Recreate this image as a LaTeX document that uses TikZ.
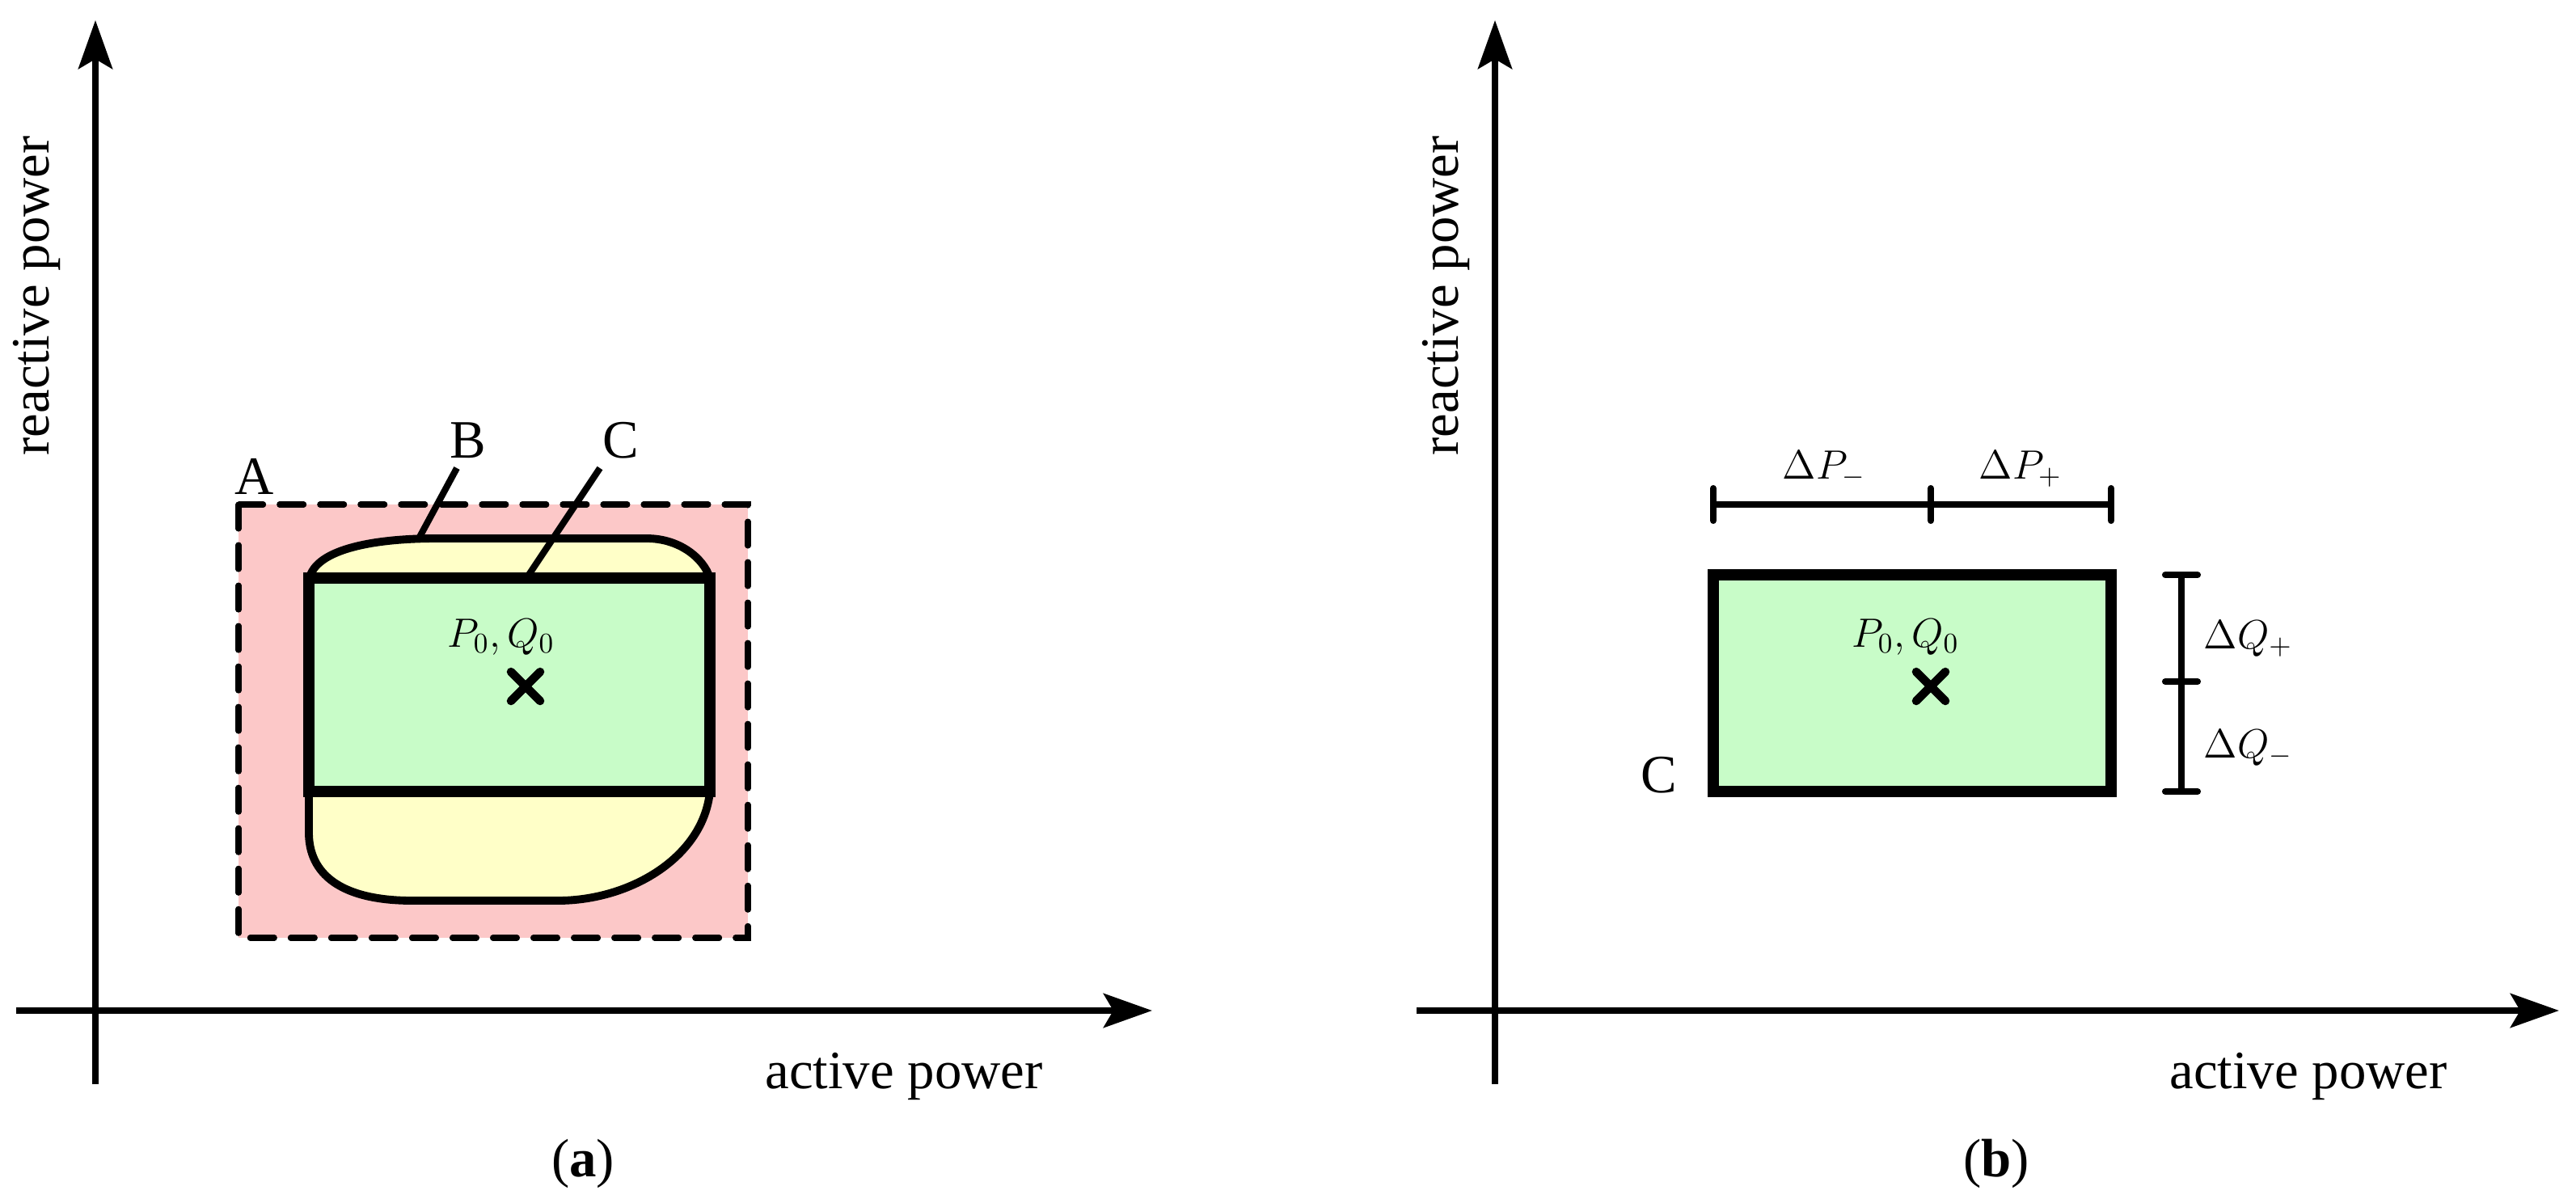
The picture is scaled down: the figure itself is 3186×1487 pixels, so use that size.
\documentclass[tikz,border=0pt]{standalone}
\usepackage{fontspec}
\setmainfont{Liberation Serif}
\usetikzlibrary{arrows.meta,calc}
\definecolor{pinkA}{RGB}{252,200,200}
\definecolor{yelB}{RGB}{255,255,200}
\definecolor{grnC}{RGB}{200,252,200}
\begin{document}
\begin{tikzpicture}[x=0.01cm,y=-0.01cm,
  ax/.style={line width=2.3pt,-{Stealth[length=0.6cm,width=0.42cm,inset=0.12cm]}},
  lbl/.style={font=\fontsize{19}{22}\selectfont,inner sep=0pt},
  pq/.style={font=\fontsize{14}{16}\selectfont,inner sep=0pt},
  thk/.style={line width=4pt},
  bar/.style={line width=2.3pt},
  tick/.style={line width=2.3pt,line cap=round}]
\useasboundingbox (0,0) rectangle (3186,1487);
% ---------- panel a
\coordinate (ya0) at (118,1341); \coordinate (ya1) at (118,25);
\coordinate (xa0) at (20,1250); \coordinate (xa1) at (1425,1250);
\draw[ax] (ya0) -- (ya1);
\draw[ax] (xa0) -- (xa1);
\node[lbl] (xla) at (1118,1331) {active power};
\node[lbl,rotate=90] (yla) at (45,366) {reactive power};
\node[lbl] (capa) at (721,1439) {(\textbf{a})};
\fill[pinkA] (295,624) rectangle (925,1160);
\draw[line width=2pt,dash pattern=on 0.3cm off 0.2cm,line cap=round] (295,624) rectangle (925,1160);
\filldraw[fill=yelB,line width=2.8pt] (382,720) .. controls (385,680) and (460,666) .. (540,666) -- (800,666) .. controls (840,666) and (870,690) .. (878,715) -- (878,979) .. controls (870,1060) and (780,1114) .. (690,1114) -- (510,1114) .. controls (420,1114) and (382,1080) .. (382,1030) -- cycle;
\filldraw[fill=grnC,thk] (382,715) rectangle (878,979);
\node[lbl] (A) at (315,589) {A};
\node[lbl] (B) at (579,545) {B};
\node[lbl] (C) at (768,545) {C};
\coordinate (Bt) at (518,666); \coordinate (Ct) at (654,711);
\draw[line width=2.3pt] (565,579) -- (Bt);
\draw[line width=2.3pt] (742,579) -- (Ct);
\node[pq] (pqa) at (620,788) {$P_0,Q_0$};
\coordinate (xa) at (650,849);
\draw[line width=3pt,line cap=round] ($(xa)+(-18,-18)$) -- ($(xa)+(18,18)$) ($(xa)+(18,-18)$) -- ($(xa)+(-18,18)$);
% ---------- panel b
\coordinate (yb0) at (1849,1341); \coordinate (yb1) at (1849,25);
\coordinate (xb0) at (1752,1250); \coordinate (xb1) at (3165,1250);
\draw[ax] (yb0) -- (yb1);
\draw[ax] (xb0) -- (xb1);
\node[lbl] (xlb) at (2855,1331) {active power};
\node[lbl,rotate=90] (ylb) at (1788,366) {reactive power};
\node[lbl] (capb) at (2469,1439) {(\textbf{b})};
\filldraw[fill=grnC,thk] (2119,711) rectangle (2611,979);
\node[lbl] (Cb) at (2052,959) {C};
\node[pq] (pqb) at (2357,788) {$P_0,Q_0$};
\coordinate (xb) at (2388,849);
\draw[line width=3pt,line cap=round] ($(xb)+(-18,-18)$) -- ($(xb)+(18,18)$) ($(xb)+(18,-18)$) -- ($(xb)+(-18,18)$);
\coordinate (p1) at (2119,624); \coordinate (p2) at (2388,624); \coordinate (p3) at (2611,624);
\draw[bar] (p1) -- (p3);
\foreach \p in {p1,p2,p3} \draw[tick] ($(\p)+(0,-20)$) -- ($(\p)+(0,20)$);
\node[pq] (dpm) at (2256,580) {$\Delta P_{-}$};
\node[pq] (dpp) at (2499,580) {$\Delta P_{+}$};
\coordinate (q1) at (2698,711); \coordinate (q2) at (2698,843); \coordinate (q3) at (2698,979);
\draw[bar] (q1) -- (q3);
\foreach \q in {q1,q2,q3} \draw[tick] ($(\q)+(-20,0)$) -- ($(\q)+(20,0)$);
\node[pq,anchor=west] (dqp) at (2725,790) {$\Delta Q_{+}$};
\node[pq,anchor=west] (dqm) at (2725,925) {$\Delta Q_{-}$};
\end{tikzpicture}
\end{document}
